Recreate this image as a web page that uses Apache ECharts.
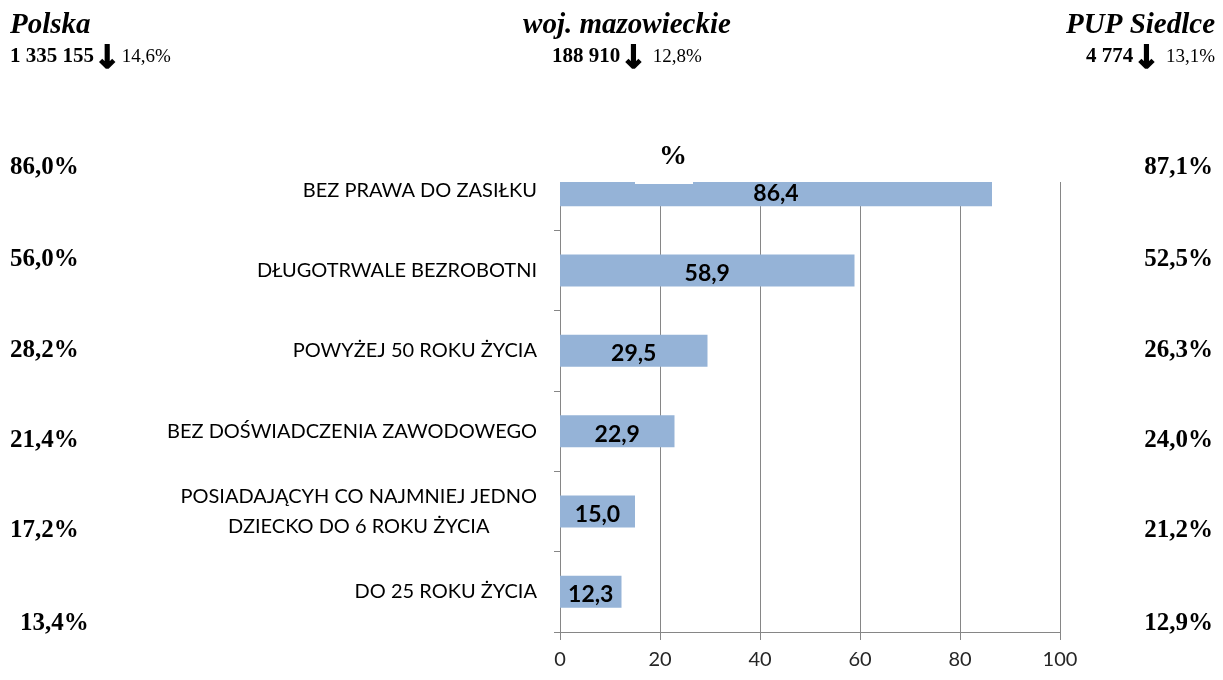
<!DOCTYPE html>
<html>
<head>
<meta charset="utf-8">
<script src="https://cdn.jsdelivr.net/npm/echarts@6/dist/echarts.min.js"></script>
<style>
  html, body { margin: 0; padding: 0; background: #fff; }
  #main { width: 1223px; height: 680px; }
</style>
</head>
<body>
<div id="main"></div>
<script>
// categories, bottom to top
var categories = [
  'DO 25 ROKU ŻYCIA',
  'POSIADAJĄCYH CO NAJMNIEJ JEDNO\nDZIECKO DO 6 ROKU ŻYCIA',
  'BEZ DOŚWIADCZENIA ZAWODOWEGO',
  'POWYŻEJ 50 ROKU ŻYCIA',
  'DŁUGOTRWALE BEZROBOTNI',
  'BEZ PRAWA DO ZASIŁKU'
];
// woj. mazowieckie, %
var values = [12.3, 15.0, 22.9, 29.5, 58.9, 86.4];
// side columns, %
var polskaShares = [13.4, 17.2, 21.4, 28.2, 56.0, 86.0];
var siedlceShares = [12.9, 21.2, 24.0, 26.3, 52.5, 87.1];
// headers
var regionNames = ['Polska', 'woj. mazowieckie', 'PUP Siedlce'];
var regionTotals = ['1 335 155', '188 910', '4 774'];
var regionChanges = [14.6, 12.8, 13.1];
var xMin = 0, xMax = 100, xStep = 20;

function pl(v) { return v.toFixed(1).replace('.', ','); }

var serif = '"Liberation Serif", "Times New Roman", serif';
var sans = 'Lato, "Open Sans", sans-serif';
var gray = '#868686';

// layout of the side texts
var rowY = [624, 531, 441, 351, 260, 168];
var leftX = [20, 10, 10, 10, 10, 10];

var graphics = [
  // white cover above the plot
  { type: 'rect', z: 100, shape: { x: 540, y: 0, width: 540, height: 182 }, style: { fill: '#fff' } },
  { type: 'rect', z: 100, shape: { x: 635, y: 180, width: 58, height: 4 }, style: { fill: '#fff' } },
  { type: 'text', z: 101, x: 673, y: 157, style: { text: '%', font: 'bold 28px ' + serif, fill: '#000', align: 'center', verticalAlign: 'middle' } }
];

var headX = [10, 627, 1215];
var headAlign = ['left', 'center', 'right'];
var headRich = {
  n: { font: 'bold 21px ' + serif, fill: '#000' },
  a: { font: 'bold 32px "DejaVu Sans", sans-serif', fill: '#000', stroke: '#000', lineWidth: 1.4, padding: [5, 1, 0, 0] },
  p: { font: '19px ' + serif, fill: '#000' }
};
for (var i = 0; i < 3; i++) {
  graphics.push({ type: 'text', z: 101, x: headX[i], y: 26, style: {
    text: regionNames[i], font: 'italic bold 29px ' + serif, fill: '#000', align: headAlign[i], verticalAlign: 'middle' } });
  graphics.push({ type: 'text', z: 101, x: headX[i], y: 57, style: {
    text: '{n|' + regionTotals[i] + '}{a|↓}{p|' + (i === 0 ? '' : ' ') + pl(regionChanges[i]) + '%}',
    rich: headRich, align: headAlign[i], verticalAlign: 'middle' } });
}
for (var j = 0; j < categories.length; j++) {
  graphics.push({ type: 'text', z: 101, x: leftX[j], y: rowY[j], style: {
    text: pl(polskaShares[j]) + '%', font: 'bold 25px ' + serif, fill: '#000', align: 'left', verticalAlign: 'middle' } });
  graphics.push({ type: 'text', z: 101, x: 1213, y: rowY[j], style: {
    text: pl(siedlceShares[j]) + '%', font: 'bold 25px ' + serif, fill: '#000', align: 'right', verticalAlign: 'middle' } });
}

var myChart = echarts.init(document.getElementById('main'));
myChart.setOption({
  animation: false,
  grid: { left: 560, right: 163, top: 150, bottom: 48, containLabel: false },
  xAxis: {
    type: 'value',
    min: xMin, max: xMax, interval: xStep,
    axisLine: { show: true, lineStyle: { color: gray } },
    axisTick: { show: true, length: 8, lineStyle: { color: gray } },
    splitLine: { show: true, lineStyle: { color: gray, width: 1 } },
    axisLabel: { color: '#262626', fontFamily: sans, fontSize: 20, margin: 18 }
  },
  yAxis: {
    type: 'category',
    data: categories,
    axisLine: { show: true, lineStyle: { color: gray } },
    axisTick: { show: true, length: 6, lineStyle: { color: gray } },
    axisLabel: {
      color: '#000', fontFamily: sans, fontSize: 20, margin: 23,
      formatter: function (v) {
        if (v.indexOf('\n') < 0) return v;
        return v.split('\n').map(function (s) { return '{c|' + s + '}'; }).join('\n');
      },
      rich: { c: { align: 'center', fontFamily: sans, fontSize: 20, color: '#000', lineHeight: 30 } }
    }
  },
  series: [{
    type: 'bar',
    data: values,
    barWidth: 32,
    itemStyle: { color: '#95b3d7' },
    label: {
      show: true, position: 'inside', color: '#000', offset: [0, 3],
      fontFamily: sans, fontWeight: 'bold', fontSize: 23,
      formatter: function (p) { return pl(p.value); }
    }
  }],
  graphic: graphics
});
</script>
</body>
</html>
